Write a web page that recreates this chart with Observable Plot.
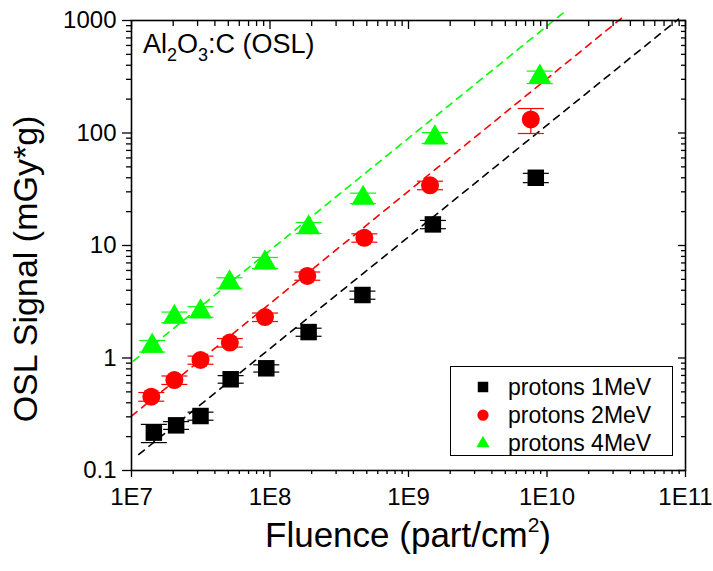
<!DOCTYPE html>
<html><head><meta charset="utf-8">
<script src="https://cdn.jsdelivr.net/npm/d3@7"></script>
<script src="https://cdn.jsdelivr.net/npm/@observablehq/plot@0.6"></script>
<style>body{margin:0;background:#fff} svg{display:block}</style>
</head><body><div id="chart"></div>
<script>
// ---- data ----
const seriesNames = ["protons 1MeV", "protons 2MeV", "protons 4MeV"];
const seriesColors = ["#000000", "#ff0000", "#00ff00"];
const seriesSymbols = ["square", "circle", "triangle"];

const fluence1 = [1.45e7, 2.1e7, 3.15e7, 5.2e7, 9.4e7, 1.9e8, 4.65e8, 1.5e9, 8.3e9];
const osl1     = [0.217, 0.252, 0.305, 0.647, 0.81, 1.70, 3.63, 15.4, 40];
const err1     = [0.04, 0.02, 0.025, 0.05, 0.06, 0.14, 0.3, 1.3, 3.8];

const fluence2 = [1.39e7, 2.04e7, 3.15e7, 5.13e7, 9.2e7, 1.86e8, 4.8e8, 1.43e9, 7.64e9];
const osl2     = [0.453, 0.637, 0.96, 1.37, 2.31, 5.36, 11.7, 34.3, 132];
const err2     = [0.04, 0.055, 0.08, 0.12, 0.2, 0.45, 1.0, 3.0, 33];

const fluence3 = [1.41e7, 2.04e7, 3.15e7, 5.1e7, 9.2e7, 1.9e8, 4.7e8, 1.55e9, 8.87e9];
const osl3     = [1.28, 2.31, 2.58, 4.67, 7.03, 14.4, 26.4, 90.8, 315];
const err3     = [0.15, 0.25, 0.28, 0.5, 0.8, 1.6, 2.8, 10, 40];

// linear (slope 1 in log-log) fits, endpoints
const fitX1 = [1.13e7, 8.9e10], fitY1 = [0.139, 1030];
const fitX2 = [1.0e7, 3.49e10], fitY2 = [0.305, 1059];
const fitX3 = [1.03e7, 1.36e10], fitY3 = [0.94, 1214];

const xTicks = [1e7, 1e8, 1e9, 1e10, 1e11];
const xTickLabels = ["1E7", "1E8", "1E9", "1E10", "1E11"];
const yTicks = [0.1, 1, 10, 100, 1000];
const yTickLabels = ["0.1", "1", "10", "100", "1000"];

// ---- tables ----
const pts = [];
[[fluence1, osl1, err1], [fluence2, osl2, err2], [fluence3, osl3, err3]].forEach(([xs, ys, es], k) => {
  xs.forEach((x, i) => pts.push({x, y: ys[i], err: es[i], s: seriesNames[k]}));
});
const fits = [];
[[fitX1, fitY1], [fitX2, fitY2], [fitX3, fitY3]].forEach(([xs, ys], k) => {
  xs.forEach((x, i) => fits.push({x, y: ys[i], s: seriesNames[k]}));
});
const minor = (dec) => dec.slice(0, -1).flatMap(d => [2,3,4,5,6,7,8,9].map(m => d * m));
const xMinor = minor(xTicks), yMinor = minor(yTicks);

const capSymbol = {draw(ctx) { ctx.moveTo(-13, 0); ctx.lineTo(13, 0); }};
const font = "Liberation Sans, Arial, Helvetica, sans-serif";

const plot = Plot.plot({
  width: 713, height: 571,
  marginLeft: 131, marginRight: 28, marginTop: 20, marginBottom: 101,
  style: {fontFamily: font, fontSize: "24px", color: "#000", background: "#fff"},
  x: {type: "log", domain: [1e7, 1e11]},
  y: {type: "log", domain: [0.1, 1000]},
  color: {domain: seriesNames, range: seriesColors},
  marks: [
    // fits
    Plot.line(fits, {x: "x", y: "y", z: "s", stroke: "s", strokeWidth: 1.6, strokeDasharray: "7,6"}),
    // error bars
    Plot.ruleX(pts, {x: "x", y1: d => d.y - d.err, y2: d => d.y + d.err, stroke: "s", strokeWidth: 1.2}),
    Plot.dot(pts, {x: "x", y: d => d.y + d.err, symbol: capSymbol, stroke: "s", strokeWidth: 1.2, fill: "none"}),
    Plot.dot(pts, {x: "x", y: d => d.y - d.err, symbol: capSymbol, stroke: "s", strokeWidth: 1.2, fill: "none"}),
    // markers
    Plot.dot(pts.filter(d => d.s === seriesNames[0]), {x: "x", y: "y", symbol: "square", r: 9.3, fill: "s", stroke: null}),
    Plot.dot(pts.filter(d => d.s === seriesNames[1]), {x: "x", y: "y", symbol: "circle", r: 9, fill: "s", stroke: null}),
    Plot.dot(pts.filter(d => d.s === seriesNames[2]), {x: "x", y: "y", symbol: "triangle", r: 8.6, fill: "s", stroke: null}),
    // axes
    Plot.axisX({anchor: "bottom", ticks: xTicks, tickSize: 7, tickPadding: 10, strokeWidth: 1.3,
      tickFormat: d => xTickLabels[xTicks.indexOf(d)], label: null, fontSize: 24}),
    Plot.axisX({anchor: "bottom", ticks: xMinor, tickSize: 4, tickFormat: () => "", label: null, strokeWidth: 1.3}),
    Plot.axisX({anchor: "top", ticks: xTicks, tickSize: 8, dy: 8, tickFormat: () => "", label: null, strokeWidth: 1.3}),
    Plot.axisX({anchor: "top", ticks: xMinor, tickSize: 5, dy: 5, tickFormat: () => "", label: null, strokeWidth: 1.3}),
    Plot.axisY({anchor: "left", ticks: yTicks, tickSize: 9, tickPadding: 6, strokeWidth: 1.3,
      tickFormat: d => yTickLabels[yTicks.indexOf(d)], label: null, fontSize: 24}),
    Plot.axisY({anchor: "left", ticks: yMinor, tickSize: 5, tickFormat: () => "", label: null, strokeWidth: 1.3}),
    Plot.axisY({anchor: "right", ticks: yTicks, tickSize: 8, dx: -8, tickFormat: () => "", label: null, strokeWidth: 1.3}),
    Plot.axisY({anchor: "right", ticks: yMinor, tickSize: 5, dx: -5, tickFormat: () => "", label: null, strokeWidth: 1.3}),
    Plot.frame({stroke: "#000", strokeWidth: 1.6})
  ]
});

const svg = d3.select(plot);
svg.style("overflow", "visible");

// title annotation
const t = svg.append("text").attr("x", 143).attr("y", 53).attr("text-anchor", "start")
  .attr("font-family", font).attr("font-size", 27).attr("fill", "#000");
t.append("tspan").text("Al");
t.append("tspan").attr("font-size", 18).attr("dy", 8).text("2");
t.append("tspan").attr("dy", -8).text("O");
t.append("tspan").attr("font-size", 18).attr("dy", 8).text("3");
t.append("tspan").attr("dy", -8).text(":C (OSL)");

// axis labels
const xl = svg.append("text").attr("x", 408).attr("y", 547).attr("text-anchor", "middle")
  .attr("font-family", font).attr("font-size", 35).attr("fill", "#000");
xl.append("tspan").text("Fluence (part/cm");
xl.append("tspan").attr("font-size", 21).attr("dy", -15).text("2");
xl.append("tspan").attr("dy", 15).text(")");

svg.append("text").attr("transform", "translate(37,269) rotate(-90)").attr("text-anchor", "middle")
  .attr("font-family", font).attr("font-size", 34).attr("fill", "#000").text("OSL Signal (mGy*g)");

// legend
const lg = svg.append("g");
lg.append("rect").attr("x", 450.5).attr("y", 366.5).attr("width", 222).attr("height", 89)
  .attr("fill", "#fff").attr("stroke", "#000").attr("stroke-width", 1);
const legendSizes = [110, 100, 75];
seriesNames.forEach((name, i) => {
  const cy = 387 + i * 28.2;
  const sym = [d3.symbolSquare, d3.symbolCircle, d3.symbolTriangle][i];
  lg.append("path").attr("d", d3.symbol(sym, legendSizes[i])())
    .attr("transform", `translate(483,${cy})`).attr("fill", seriesColors[i]);
  lg.append("text").attr("x", 508).attr("y", cy).attr("dy", "0.35em").attr("text-anchor", "start")
    .attr("font-family", font).attr("font-size", 23).attr("fill", "#000").text(name);
});

document.getElementById("chart").appendChild(plot);
</script>
</body></html>
